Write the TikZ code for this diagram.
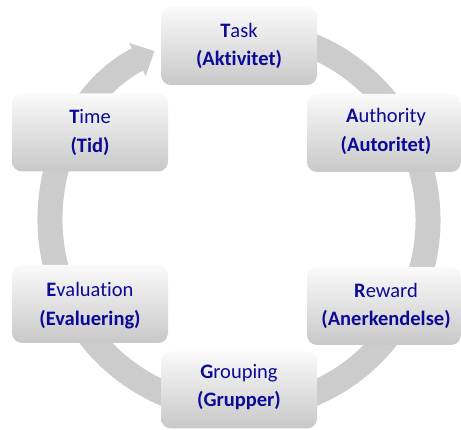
\documentclass[tikz,border=0pt]{standalone}
\usepackage{fontspec}
\setmainfont{Carlito}[Ligatures=NoCommon]
\usetikzlibrary{arrows.meta}
\definecolor{txtblue}{RGB}{10,10,150}
\definecolor{ringgray}{RGB}{204,204,204}
\definecolor{boxtop}{RGB}{250,250,250}
\definecolor{boxbot}{RGB}{200,200,200}
\begin{document}
\begin{tikzpicture}[x=1pt,y=-1pt,
  box/.style={rectangle, rounded corners=10pt, minimum width=156pt, minimum height=78pt,
    top color=boxtop, bottom color=boxbot, inner sep=0pt},
  txt/.style={anchor=base, inner sep=0pt, text=txtblue, font=\fontsize{20.5}{24}\selectfont}]
\useasboundingbox (0,0) rectangle (461,430);
\coordinate (c) at (239,220);
\draw[ringgray, line width=25pt, -{Triangle[length=19pt,width=36pt]}]
  ([shift={(-100:189)}]c) arc[start angle=-100, end angle=243.4, radius=189];
% Task
\node[box] (task) at (239,46) {};
\node[txt] (taskA) at (239,37.5) {\textbf{T}ask};
\node[txt] (taskB) at (239,66) {\textbf{(Aktivitet)}};
% Authority
\node[box, minimum width=154pt] (auth) at (384,133) {};
\node[txt] (authA) at (386,123) {\textbf{A}uthority};
\node[txt] (authB) at (386,151.5) {\textbf{(Autoritet)}};
% Time
\node[box] (time) at (90,132.5) {};
\node[txt] (timeA) at (90,123.5) {\textbf{T}ime};
\node[txt] (timeB) at (90,153) {\textbf{(Tid)}};
% Evaluation
\node[box] (eval) at (90,304) {};
\node[txt] (evalA) at (90,297) {\textbf{E}valuation};
\node[txt] (evalB) at (90,326) {\textbf{(Evaluering)}};
% Reward
\node[box, minimum width=154pt] (rew) at (384,306) {};
\node[txt] (rewA) at (386,297.5) {\textbf{R}eward};
\node[txt] (rewB) at (386,326) {\textbf{(Anerkendelse)}};
% Grouping
\node[box, minimum height=77pt] (grp) at (239,390) {};
\node[txt] (grpA) at (239,378.5) {\textbf{G}rouping};
\node[txt] (grpB) at (239,407) {\textbf{(Grupper)}};
\end{tikzpicture}
\end{document}
